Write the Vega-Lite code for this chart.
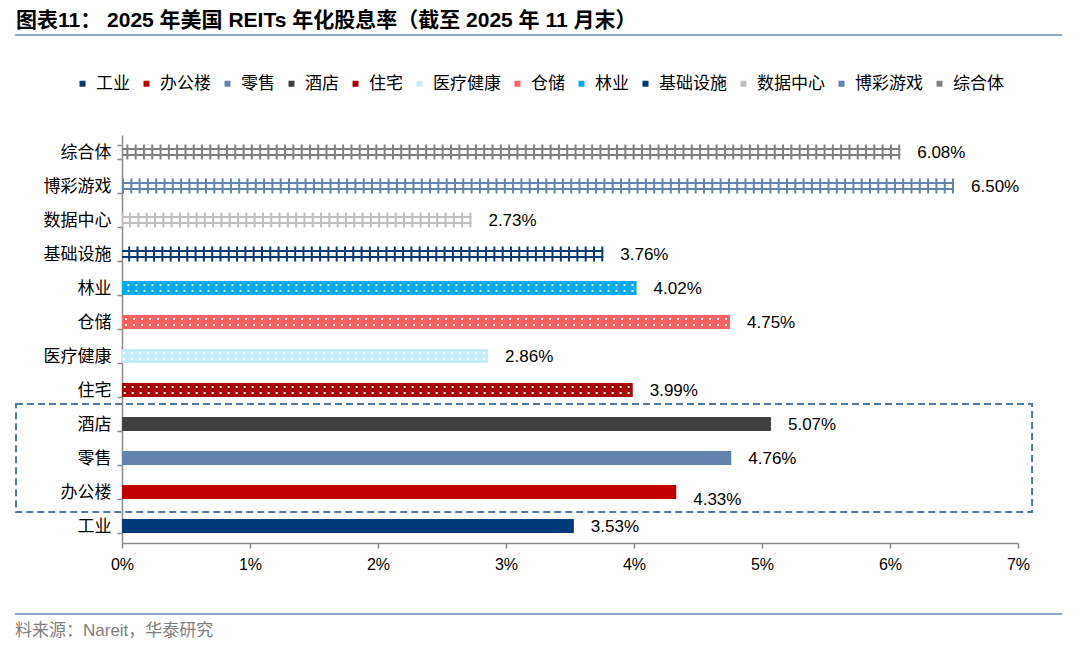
{
  "$schema": "https://vega.github.io/schema/vega-lite/v6.json",
  "width": 896,
  "height": 408,
  "autosize": {"type": "none"},
  "padding": {"left": 122, "top": 135, "right": 62, "bottom": 104},
  "background": "white",
  "title": {
    "text": "图表11： 2025 年美国 REITs 年化股息率（截至 2025 年 11 月末）",
    "anchor": "start",
    "frame": "group",
    "orient": "top",
    "dx": -106,
    "offset": 3,
    "font": "Liberation Sans, Noto Sans CJK SC",
    "fontSize": 21,
    "fontWeight": "bold",
    "color": "#000000"
  },
  "datasets": {
    "reits": [
      {"category": "综合体", "value": 0.0608},
      {"category": "博彩游戏", "value": 0.065},
      {"category": "数据中心", "value": 0.0273},
      {"category": "基础设施", "value": 0.0376},
      {"category": "林业", "value": 0.0402},
      {"category": "仓储", "value": 0.0475},
      {"category": "医疗健康", "value": 0.0286},
      {"category": "住宅", "value": 0.0399},
      {"category": "酒店", "value": 0.0507},
      {"category": "零售", "value": 0.0476},
      {"category": "办公楼", "value": 0.0433},
      {"category": "工业", "value": 0.0353}
    ]
  },
  "layer": [
    {
      "data": {"name": "reits"},
      "encoding": {
        "y": {
          "field": "category",
          "type": "nominal",
          "title": null,
          "sort": ["综合体", "博彩游戏", "数据中心", "基础设施", "林业", "仓储", "医疗健康", "住宅", "酒店", "零售", "办公楼", "工业"],
          "scale": {
            "domain": ["综合体", "博彩游戏", "数据中心", "基础设施", "林业", "仓储", "医疗健康", "住宅", "酒店", "零售", "办公楼", "工业"],
            "paddingInner": 0.59,
            "paddingOuter": 0.295
          }
        }
      },
      "layer": [
        {
          "transform": [{"filter": {"field": "category", "oneOf": ["林业", "仓储", "医疗健康", "住宅", "酒店", "零售", "办公楼", "工业"]}}],
          "mark": {"type": "bar"},
          "encoding": {
            "x": {
              "field": "value",
              "type": "quantitative",
              "title": null,
              "scale": {"domain": [0, 0.07], "nice": false, "zero": true},
              "axis": {"values": [0, 0.01, 0.02, 0.03, 0.04, 0.05, 0.06, 0.07], "format": ".0%", "labelFlush": false}
            },
            "color": {
              "field": "category",
              "type": "nominal",
              "scale": {
                "domain": ["工业", "办公楼", "零售", "酒店", "住宅", "医疗健康", "仓储", "林业", "基础设施", "数据中心", "博彩游戏", "综合体"],
                "range": ["#003A78", "#C00000", "#6283AE", "#404040", "#AB0000", "#C6EBF9", "#FF6161", "#00AEEF", "#003A78", "#BFBFBF", "#6283AE", "#808080"]
              },
              "legend": {
                "orient": "none",
                "legendX": -48,
                "legendY": -60,
                "direction": "horizontal",
                "columns": 12,
                "title": null,
                "symbolType": "square",
                "symbolSize": 36,
                "symbolStrokeWidth": 0,
                "labelFont": "Noto Sans CJK SC",
                "labelFontSize": 17,
                "labelColor": "#000000",
                "labelOffset": 5,
                "columnPadding": 8
              }
            }
          }
        },
        {
          "transform": [{"filter": {"field": "category", "oneOf": ["林业", "仓储", "医疗健康", "住宅"]}}],
          "mark": {"type": "rule", "stroke": "#FFFFFF", "strokeWidth": 2, "strokeDash": [2, 6], "strokeDashOffset": -3, "yOffset": -3},
          "encoding": {
            "x": {"field": "value", "type": "quantitative", "title": null},
            "x2": {"datum": 0}
          }
        },
        {
          "transform": [{"filter": {"field": "category", "oneOf": ["林业", "仓储", "医疗健康", "住宅"]}}],
          "mark": {"type": "rule", "stroke": "#FFFFFF", "strokeWidth": 2, "strokeDash": [2, 6], "strokeDashOffset": -3, "yOffset": 3},
          "encoding": {
            "x": {"field": "value", "type": "quantitative", "title": null},
            "x2": {"datum": 0}
          }
        },
        {
          "transform": [{"filter": {"field": "category", "oneOf": ["综合体", "博彩游戏", "数据中心", "基础设施"]}}],
          "mark": {"type": "rule", "strokeWidth": 15, "strokeDash": [2, 6.3]},
          "encoding": {
            "x": {"field": "value", "type": "quantitative", "title": null},
            "x2": {"datum": 0},
            "color": {"field": "category", "type": "nominal", "legend": null}
          }
        },
        {
          "transform": [{"filter": {"field": "category", "oneOf": ["综合体", "博彩游戏", "数据中心", "基础设施"]}}],
          "mark": {"type": "rule", "strokeWidth": 2, "yOffset": -3},
          "encoding": {
            "x": {"field": "value", "type": "quantitative", "title": null},
            "x2": {"datum": 0},
            "color": {"field": "category", "type": "nominal", "legend": null}
          }
        },
        {
          "transform": [{"filter": {"field": "category", "oneOf": ["综合体", "博彩游戏", "数据中心", "基础设施"]}}],
          "mark": {"type": "rule", "strokeWidth": 2, "yOffset": 3},
          "encoding": {
            "x": {"field": "value", "type": "quantitative", "title": null},
            "x2": {"datum": 0},
            "color": {"field": "category", "type": "nominal", "legend": null}
          }
        },
        {
          "transform": [{"filter": {"field": "category", "oneOf": ["综合体", "博彩游戏", "数据中心", "基础设施", "林业", "仓储", "医疗健康", "住宅", "酒店", "零售", "工业"]}}],
          "mark": {"type": "text", "align": "left", "baseline": "middle", "dx": 17, "dy": 1, "font": "Liberation Sans", "fontSize": 17, "color": "#000000"},
          "encoding": {
            "x": {"field": "value", "type": "quantitative", "title": null},
            "text": {"field": "value", "type": "quantitative", "format": ".2%"}
          }
        },
        {
          "transform": [{"filter": {"field": "category", "equal": "办公楼"}}],
          "mark": {"type": "text", "align": "left", "baseline": "middle", "dx": 17, "dy": 8, "font": "Liberation Sans", "fontSize": 17, "color": "#000000"},
          "encoding": {
            "x": {"field": "value", "type": "quantitative", "title": null},
            "text": {"field": "value", "type": "quantitative", "format": ".2%"}
          }
        }
      ]
    },
    {
      "data": {"values": [{}]},
      "layer": [
        {
          "mark": {"type": "rule", "stroke": "#8FA9CC", "strokeWidth": 2},
          "encoding": {
            "x": {"datum": -0.00836, "type": "quantitative", "title": null},
            "x2": {"datum": 0.07344},
            "y": {"datum": -2.94, "type": "quantitative", "axis": null, "scale": {"domain": [0, 12], "reverse": true, "nice": false, "zero": false}}
          }
        },
        {
          "mark": {"type": "rule", "stroke": "#8FA9CC", "strokeWidth": 2},
          "encoding": {
            "x": {"datum": -0.00836, "type": "quantitative", "title": null},
            "x2": {"datum": 0.07344},
            "y": {"datum": 14.09, "type": "quantitative", "axis": null, "scale": {"domain": [0, 12], "reverse": true, "nice": false, "zero": false}}
          }
        },
        {
          "mark": {"type": "text", "align": "left", "baseline": "middle", "font": "Liberation Sans, Noto Sans CJK SC", "fontSize": 17, "color": "#7F7F7F", "text": "料来源：Nareit，华泰研究"},
          "encoding": {
            "x": {"datum": -0.00836, "type": "quantitative", "title": null},
            "y": {"datum": 14.59, "type": "quantitative", "axis": null, "scale": {"domain": [0, 12], "reverse": true, "nice": false, "zero": false}}
          }
        },
        {
          "mark": {"type": "rect", "fill": "transparent", "stroke": "#4E79AB", "strokeWidth": 2, "strokeDash": [7, 4]},
          "encoding": {
            "x": {"datum": -0.00828, "type": "quantitative", "title": null},
            "x2": {"datum": 0.0711},
            "y": {"datum": 7.91, "type": "quantitative", "axis": null, "scale": {"domain": [0, 12], "reverse": true, "nice": false, "zero": false}},
            "y2": {"datum": 11.09}
          }
        }
      ]
    }
  ],
  "resolve": {"scale": {"y": "independent"}},
  "config": {
    "view": {"stroke": null},
    "axisX": {
      "grid": false,
      "domainColor": "#8C8C8C",
      "domainWidth": 1.5,
      "tickColor": "#8C8C8C",
      "tickWidth": 1.5,
      "tickSize": 5,
      "labelFont": "Liberation Sans",
      "labelFontSize": 16,
      "labelColor": "#000000",
      "labelPadding": 8,
      "labelFlush": false
    },
    "axisY": {
      "grid": false,
      "domainColor": "#8C8C8C",
      "domainWidth": 1.5,
      "tickColor": "#8C8C8C",
      "tickWidth": 1.5,
      "tickSize": 5,
      "tickBand": "extent",
      "labelFont": "Noto Sans CJK SC",
      "labelFontSize": 17,
      "labelColor": "#000000",
      "labelPadding": 6
    }
  }
}
